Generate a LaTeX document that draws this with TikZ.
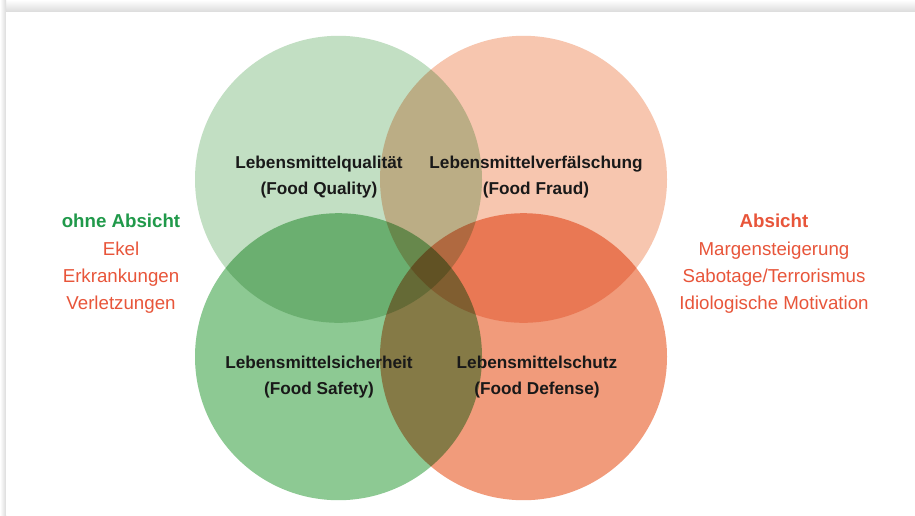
\documentclass[tikz,border=0pt]{standalone}
\usepackage{fontspec}
\setmainfont{Liberation Sans}
\usetikzlibrary{positioning}

\definecolor{qualgreen}{HTML}{C2DFC3}
\definecolor{safegreen}{HTML}{8DC993}
\definecolor{fraudred}{HTML}{F7C6AF}
\definecolor{defred}{HTML}{F19B7B}
\definecolor{intgreen}{HTML}{20994A}
\definecolor{intred}{HTML}{E8553A}

\begin{document}
\begin{tikzpicture}[
    x=1pt, y=-1pt,
    lbl/.style={font=\bfseries\fontsize{17.2}{26}\selectfont, align=center, text=black!90},
    side/.style={font=\fontsize{18.7}{27.3}\selectfont, align=center, text=intred}
]

% Card with shadow
\useasboundingbox (0,0) rectangle (915,515);
\shade[top color=white, bottom color=black!14] (0,0) rectangle (915,12);
\shade[left color=white, right color=black!14] (0,0) rectangle (6,515);
\fill[white] (6,12) rectangle (915,515);

% Four circles
\begin{scope}[blend group=multiply]
\fill[qualgreen] (338.5,179.3) circle (143.5);
\fill[fraudred] (523.5,179.3) circle (143.5);
\fill[safegreen] (338.5,356.7) circle (143.5);
\fill[defred] (523.5,356.7) circle (143.5);
\end{scope}

% Circle labels
\node[lbl] (quality) at (319,177) {Lebensmittelqualität\\(Food Quality)};
\node[lbl] (fraud) at (536,177) {Lebensmittelverfälschung\\(Food Fraud)};
\node[lbl] (safety) at (319,377) {Lebensmittelsicherheit\\(Food Safety)};
\node[lbl] (defense) at (537,377) {Lebensmittelschutz\\(Food Defense)};

% Side texts
\node[side] (noint) at (121,264)
    {\textcolor{intgreen}{\bfseries ohne Absicht}\\Ekel\\Erkrankungen\\Verletzungen};
\node[side] (int) at (774,264)
    {\textbf{Absicht}\\Margensteigerung\\Sabotage/Terrorismus\\Idiologische Motivation};

\end{tikzpicture}
\end{document}
